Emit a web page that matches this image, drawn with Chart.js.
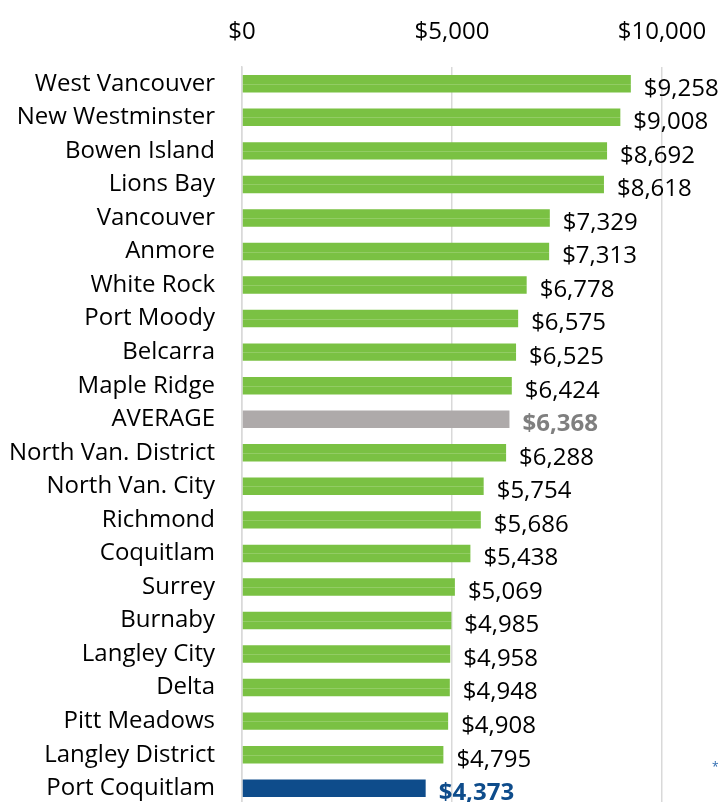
<!DOCTYPE html>
<html><head><meta charset="utf-8">
<script src="https://cdn.jsdelivr.net/npm/chart.js@4"></script>
<style>
html,body{margin:0;padding:0;background:#fff;overflow:hidden;}
#wrap{position:relative;width:725px;height:810px;}
#note{position:absolute;left:712px;top:758px;font:12px "Open Sans";color:#2e6bb0;}
canvas{display:block;}
</style></head><body>
<div id="wrap"><canvas id="c" width="725" height="810" style="width:725px;height:810px"></canvas><div id="note">*</div></div>
<script>
const categories = ["West Vancouver","New Westminster","Bowen Island","Lions Bay","Vancouver","Anmore","White Rock","Port Moody","Belcarra","Maple Ridge","AVERAGE","North Van. District","North Van. City","Richmond","Coquitlam","Surrey","Burnaby","Langley City","Delta","Pitt Meadows","Langley District","Port Coquitlam"];
const values = [9258,9008,8692,8618,7329,7313,6778,6575,6525,6424,6368,6288,5754,5686,5438,5069,4985,4958,4948,4908,4795,4373];
const tickValues = [0,5000,10000];

const GREEN="#7ac143", GRAY="#aeaaaa", BLUE="#0e4c8b";
const barColors = categories.map(c => c==="AVERAGE"?GRAY:(c==="Port Coquitlam"?BLUE:GREEN));
const fmt = v => "$" + v.toLocaleString("en-US");

const labelPlugin = {
  id:"valLabels",
  afterDatasetsDraw(chart){
    const ctx = chart.ctx;
    const meta = chart.getDatasetMeta(0);
    ctx.save();
    meta.data.forEach((bar,i)=>{
      const c = categories[i];
      let color="#000", weight="normal";
      if(c==="AVERAGE"){color="#7f7f7f";weight="bold";}
      if(c==="Port Coquitlam"){color=BLUE;weight="bold";}
      if(barColors[i]===GREEN){
        ctx.strokeStyle="rgba(255,255,255,0.18)";ctx.lineWidth=1;
        ctx.beginPath();ctx.moveTo(bar.base,Math.round(bar.y)+0.5);ctx.lineTo(bar.x,Math.round(bar.y)+0.5);ctx.stroke();
      }
      ctx.font = weight+" 24px 'Open Sans'";
      ctx.fillStyle=color;
      ctx.textAlign="left";ctx.textBaseline="middle";
      ctx.fillText(fmt(values[i]), bar.x+13, bar.y+5);
    });
    ctx.restore();
  }
};

new Chart(document.getElementById("c"),{
  type:"bar",
  data:{labels:categories,datasets:[{data:values,backgroundColor:barColors,barPercentage:0.52,categoryPercentage:1}]},
  plugins:[labelPlugin],
  options:{
    indexAxis:"y",responsive:false,maintainAspectRatio:false,animation:false,
    layout:{padding:{left:0,right:63,top:0,bottom:5}},
    plugins:{legend:{display:false},tooltip:{enabled:false}},
    scales:{
      x:{position:"top",min:0,max:10000,
        afterBuildTicks:s=>{s.ticks=tickValues.map(v=>({value:v}));},
        afterFit:s=>{s.height=67;s.paddingLeft=0;s.paddingRight=0;},
        grid:{color:"#d9d9d9",lineWidth:1.5,drawTicks:false},
        border:{display:false},
        ticks:{padding:20,color:"#000",font:{family:"Open Sans",size:24},callback:v=>fmt(v)}},
      y:{afterFit:s=>{s.width=242;s.paddingTop=0;s.paddingBottom=0;},
        grid:{display:false},
        border:{display:true,color:"#d9d9d9",width:1.5},
        ticks:{padding:19,color:"#000",font:{family:"Open Sans",size:24},autoSkip:false}}
    }
  }
});
</script></body></html>
